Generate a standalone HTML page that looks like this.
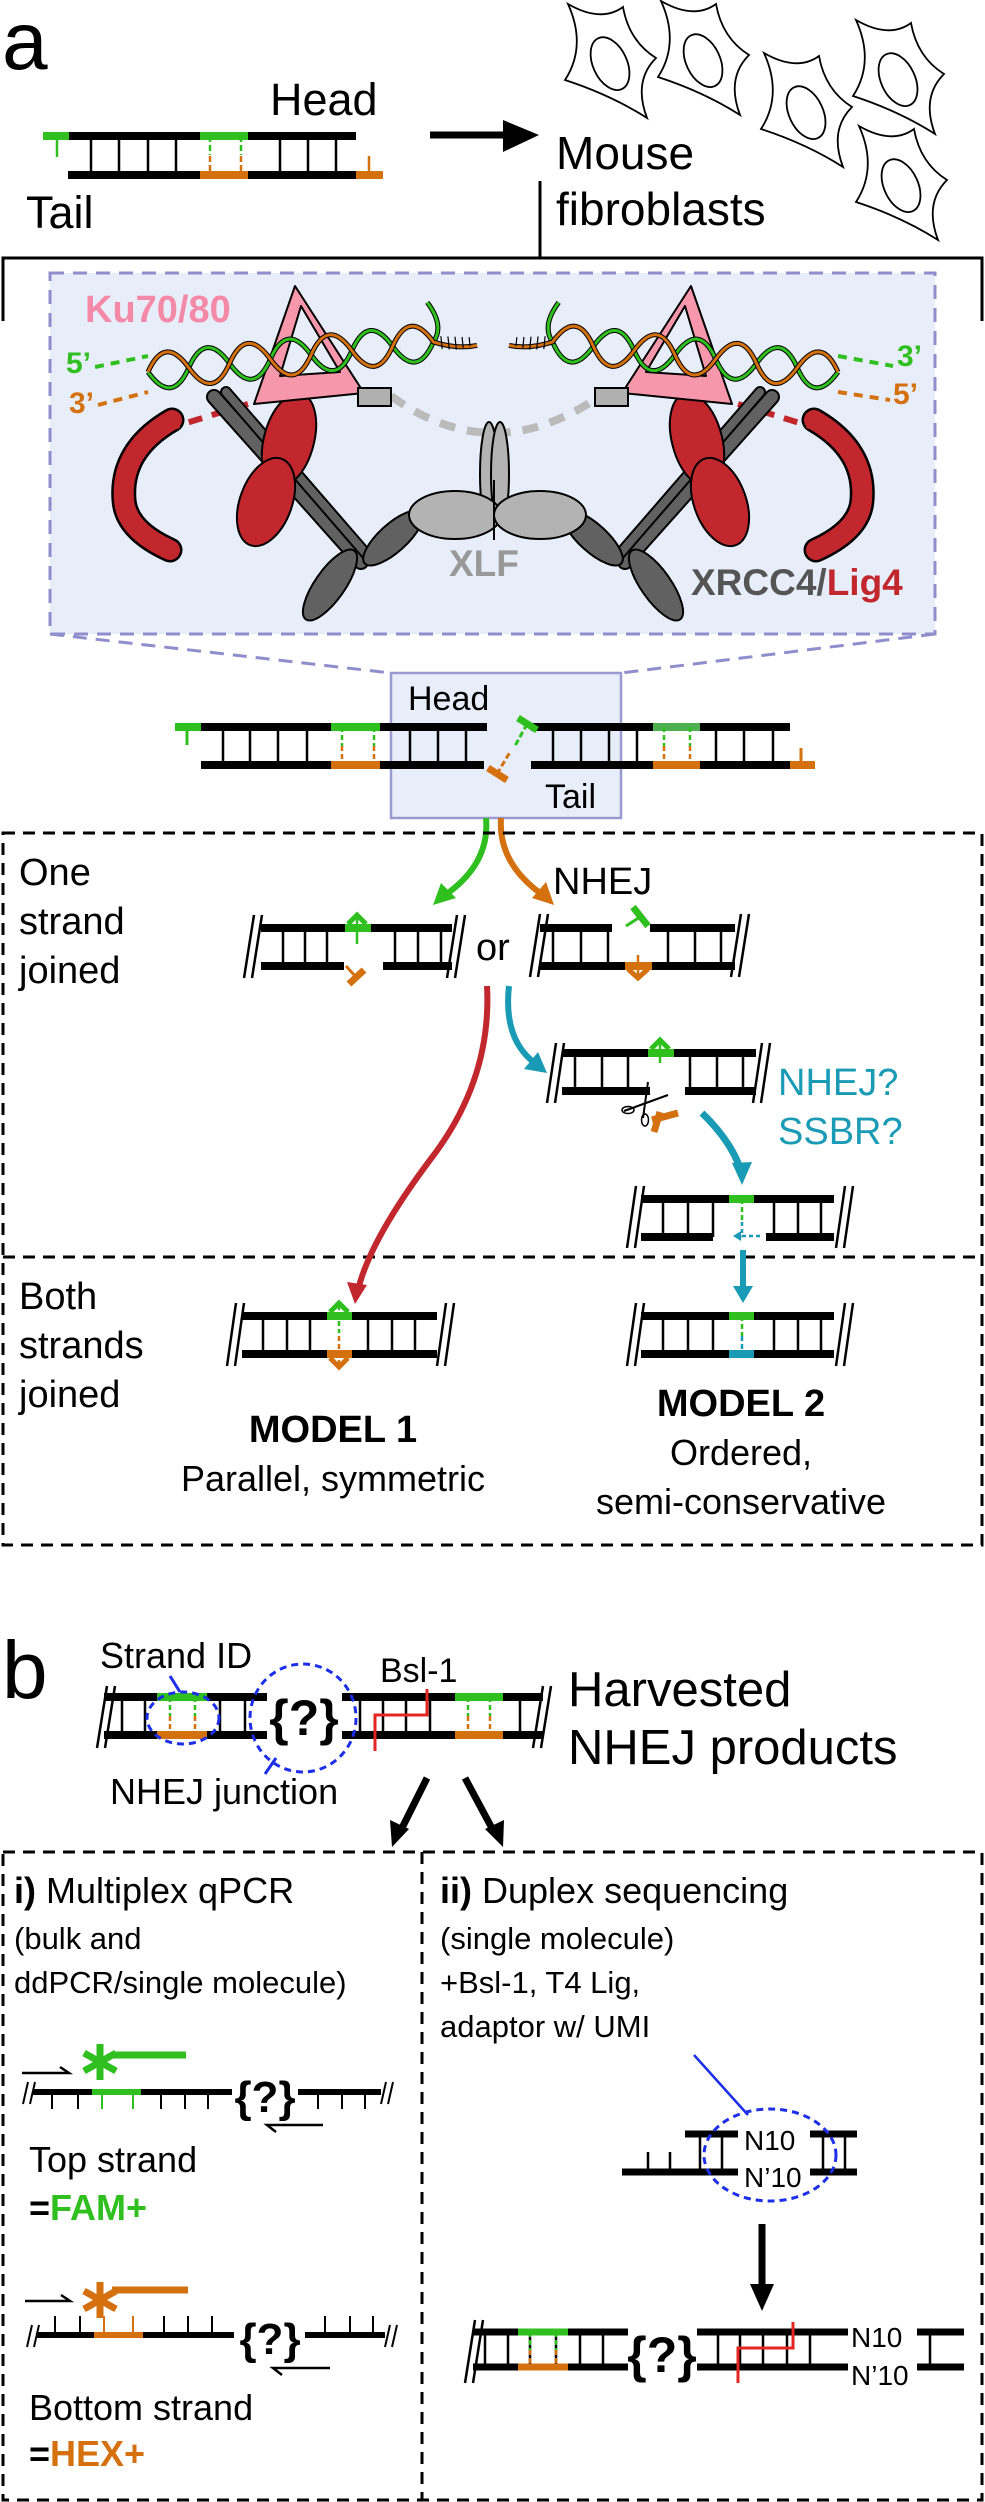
<!DOCTYPE html>
<html><head><meta charset="utf-8"><style>
html,body{margin:0;padding:0;background:#fff}
svg{display:block}
text{font-family:"Liberation Sans",sans-serif}
</style></head><body>
<svg width="985" height="2502" viewBox="0 0 985 2502" xmlns="http://www.w3.org/2000/svg">
<defs>
<pattern id="hatch" width="6" height="10" patternUnits="userSpaceOnUse"><path d="M3,0 V10" stroke="#000" stroke-width="1.2"/></pattern>
<g id="cell"><path d="M-43,-57 Q-10,-38 12,-54 Q18,-20 45,-3 Q22,20 36,57 Q0,34 -46,19 Q-24,-15 -43,-57 Z" fill="none" stroke="#000" stroke-width="1.8"/><ellipse cx="-2" cy="2" rx="17" ry="28" transform="rotate(-25)" fill="none" stroke="#000" stroke-width="1.8"/></g>
<g id="helix">
<path d="M0,0 Q20.5,-36 41,0 T82,0 T123,0 T164,0 T205,0 T246,0 T287,0 Q266.5,-36 246,0 T205,0 T164,0 T123,0 T82,0 T41,0 T0,0 Z" fill="url(#hatch)" stroke="none"/>
<path d="M0,0 Q20.5,36 41,0 T82,0 T123,0 T164,0 T205,0 T246,0 T287,0 Q300,-15 285,-40" fill="none" stroke="#000" stroke-width="5"/>
<path d="M0,0 Q20.5,36 41,0 T82,0 T123,0 T164,0 T205,0 T246,0 T287,0 Q300,-15 285,-40" fill="none" stroke="#2fbf1f" stroke-width="3"/>
<path d="M0,0 Q20.5,-36 41,0 T82,0 T123,0 T164,0 T205,0 T246,0 T287,0 Q310,10 330,8" fill="none" stroke="#000" stroke-width="5"/>
<path d="M0,0 Q20.5,-36 41,0 T82,0 T123,0 T164,0 T205,0 T246,0 T287,0 Q310,10 330,8" fill="none" stroke="#d5700f" stroke-width="3"/>
<path d="M295,-5 V8 M302,-4 V9 M309,-3 V10 M316,-2 V9 M323,-1 V8" stroke="#000" stroke-width="1.2"/>
</g>
<g id="complex">
<path d="M172,420 Q120,450 124,500 Q126,530 170,550" fill="none" stroke="#000" stroke-width="25" stroke-linecap="round"/>
<path d="M172,420 Q120,450 124,500 Q126,530 170,550" fill="none" stroke="#c1272d" stroke-width="20" stroke-linecap="round"/>
<path d="M248,404 L170,428" stroke="#c1272d" stroke-width="6" stroke-dasharray="14 10"/>
<path d="M214,397 L361,562" stroke="#000" stroke-width="16" stroke-linecap="round"/>
<path d="M214,397 L361,562" stroke="#616161" stroke-width="12" stroke-linecap="round"/>
<path d="M226,392 L368,556" stroke="#000" stroke-width="12" stroke-linecap="round"/>
<path d="M226,392 L368,556" stroke="#616161" stroke-width="8" stroke-linecap="round"/>
<ellipse cx="289" cy="440" rx="25" ry="48" transform="rotate(15 289 440)" fill="#c1272d" stroke="#000" stroke-width="2"/>
<ellipse cx="266" cy="502" rx="26" ry="46" transform="rotate(20 266 502)" fill="#c1272d" stroke="#000" stroke-width="2"/>
<ellipse cx="330" cy="585" rx="42" ry="15" transform="rotate(-55 330 585)" fill="#616161" stroke="#000" stroke-width="2"/>
<ellipse cx="393" cy="538" rx="38" ry="14" transform="rotate(-42 393 538)" fill="#616161" stroke="#000" stroke-width="2"/>
<path d="M295,286 L254,404 L364,393 Z" fill="#f797ac" stroke="#000" stroke-width="2" stroke-linejoin="round"/>
<path d="M301,306 L280,376 L340,372 Z" fill="#e8eef9" stroke="#000" stroke-width="2" stroke-linejoin="round"/>
<rect x="358" y="388" width="33" height="18" fill="#b0b0b0" stroke="#000" stroke-width="2"/>
</g>
</defs>

<!-- PANEL A -->
<text x="2" y="69" font-size="82">a</text>
<text x="270" y="115" font-size="45">Head</text>
<text x="26" y="228" font-size="45">Tail</text>
<path d="M91,136V175 M119,136V175 M148,136V175 M176,136V175 M280,136V175 M308,136V175 M336,136V175" stroke="#000" stroke-width="2.5"/>
<path d="M69,136H356 M68,175H356" stroke="#000" stroke-width="8"/>
<path d="M43,136H69 M200,136H248" stroke="#2fbf1f" stroke-width="8"/>
<path d="M200,175H248 M356,175H383" stroke="#d5700f" stroke-width="8"/>
<path d="M210,136V155 M241,136V155" stroke="#2fbf1f" stroke-width="2.5" stroke-dasharray="6 3"/>
<path d="M210,156V175 M241,156V175" stroke="#d5700f" stroke-width="2.5" stroke-dasharray="6 3"/>
<path d="M57,136V157" stroke="#2fbf1f" stroke-width="2.5"/>
<path d="M369,156V175" stroke="#d5700f" stroke-width="2.5"/>
<path d="M430,135H515" stroke="#000" stroke-width="7"/>
<path d="M503,120 L539,135 L503,152 Z" fill="#000"/>
<text x="556" y="169" font-size="46">Mouse</text>
<text x="556" y="225" font-size="46">fibroblasts</text>
<use href="#cell" x="611" y="61"/>
<use href="#cell" x="704" y="58"/>
<use href="#cell" x="807" y="110"/>
<use href="#cell" x="899" y="77"/>
<use href="#cell" x="902" y="183"/>
<path d="M540,181V258 M3,321V258H982V321" fill="none" stroke="#000" stroke-width="3"/>
<rect x="50" y="273" width="885" height="361" fill="#e8eef9" stroke="#8e8ecc" stroke-width="3" stroke-dasharray="14 9"/>
<path d="M50,634 L391,673 M935,634 L621,673" stroke="#8e8ecc" stroke-width="3" stroke-dasharray="14 9"/>
<path d="M391,396 Q493,470 600,396" fill="none" stroke="#bbb" stroke-width="8" stroke-dasharray="16 12"/>
<use href="#complex"/>
<g transform="translate(986,0) scale(-1,1)"><use href="#complex"/></g>
<ellipse cx="489" cy="474" rx="9" ry="52" fill="#b3b3b3" stroke="#000" stroke-width="2"/>
<ellipse cx="500" cy="474" rx="9" ry="52" fill="#b3b3b3" stroke="#000" stroke-width="2"/>
<ellipse cx="455" cy="515" rx="46" ry="24" fill="#b3b3b3" stroke="#000" stroke-width="2"/>
<ellipse cx="540" cy="515" rx="46" ry="24" fill="#b3b3b3" stroke="#000" stroke-width="2"/>
<path d="M494,480 L494,540" stroke="#000" stroke-width="2"/>
<g transform="translate(148,372) rotate(-6)"><use href="#helix"/></g>
<g transform="translate(838,372) scale(-1,1) rotate(-6)"><use href="#helix"/></g>
<path d="M95,367 L148,356" stroke="#2fbf1f" stroke-width="4" stroke-dasharray="9 7"/>
<path d="M98,405 L148,392" stroke="#d5700f" stroke-width="4" stroke-dasharray="9 7"/>
<path d="M838,356 L893,366" stroke="#2fbf1f" stroke-width="4" stroke-dasharray="9 7"/>
<path d="M838,392 L890,400" stroke="#d5700f" stroke-width="4" stroke-dasharray="9 7"/>
<text x="66" y="373" font-size="30" font-weight="bold" fill="#2fbf1f">5’</text>
<text x="69" y="413" font-size="30" font-weight="bold" fill="#d5700f">3’</text>
<text x="897" y="366" font-size="30" font-weight="bold" fill="#2fbf1f">3’</text>
<text x="893" y="404" font-size="30" font-weight="bold" fill="#d5700f">5’</text>
<text x="85" y="322" font-size="38" font-weight="bold" fill="#f48aa8">Ku70/80</text>
<text x="449" y="576" font-size="37" font-weight="bold" fill="#999">XLF</text>
<text x="691" y="595" font-size="37" font-weight="bold" fill="#555">XRCC4/<tspan fill="#c1272d">Lig4</tspan></text>

<rect x="391" y="673" width="230" height="145" fill="#e8eef9" stroke="#9a9ad0" stroke-width="2.5"/>
<text x="408" y="710" font-size="34">Head</text>
<text x="545" y="808" font-size="34">Tail</text>
<path d="M223,727V765 M250,727V765 M278,727V765 M307,727V765 M410,727V765 M438,727V765 M466,727V765 M553,727V765 M581,727V765 M609,727V765 M637,727V765 M716,727V765 M744,727V765 M773,727V765" stroke="#000" stroke-width="2.5"/>
<path d="M201,727H487 M201,765H484 M531,727H790 M531,765H790" stroke="#000" stroke-width="8"/>
<path d="M175,727H201 M331,727H380" stroke="#2fbf1f" stroke-width="8"/>
<path d="M653,727H700" stroke="#4caf50" stroke-width="8"/>
<path d="M331,765H380 M653,765H700 M790,765H815" stroke="#d5700f" stroke-width="8"/>
<path d="M187,727V745" stroke="#2fbf1f" stroke-width="3"/>
<path d="M801,748V765" stroke="#d5700f" stroke-width="3"/>
<path d="M342,727V746 M374,727V746 M664,727V746 M690,727V746" stroke="#2fbf1f" stroke-width="2.5" stroke-dasharray="5 3"/>
<path d="M342,746V765 M374,746V765 M664,746V765 M690,746V765" stroke="#d5700f" stroke-width="2.5" stroke-dasharray="5 3"/>
<path d="M518,718 L537,730" stroke="#2fbf1f" stroke-width="7"/>
<path d="M527,724 L515,746" stroke="#2fbf1f" stroke-width="3" stroke-dasharray="6 3"/>
<path d="M488,768 L507,780" stroke="#d5700f" stroke-width="7"/>
<path d="M497,774 L510,752" stroke="#d5700f" stroke-width="3" stroke-dasharray="6 3"/>
<path d="M486,818 Q490,862 448,893" fill="none" stroke="#2fbf1f" stroke-width="6"/>
<path d="M433,905 L441,883 L456,898 Z" fill="#2fbf1f"/>
<path d="M501,818 Q498,862 540,893" fill="none" stroke="#d5700f" stroke-width="6"/>
<path d="M554,905 L532,898 L546,882 Z" fill="#d5700f"/>

<rect x="3" y="833" width="979" height="712" fill="none" stroke="#000" stroke-width="3" stroke-dasharray="12 8"/>
<path d="M3,1257H982" stroke="#000" stroke-width="3" stroke-dasharray="12 8"/>
<text font-size="38"><tspan x="19" y="885">One</tspan><tspan x="19" y="934">strand</tspan><tspan x="19" y="983">joined</tspan></text>
<text x="553" y="894" font-size="38">NHEJ</text>
<text x="476" y="960" font-size="38">or</text>
<path d="M283,928V966 M305,928V966 M327,928V966 M395,928V966 M418,928V966 M441,928V966" stroke="#000" stroke-width="2.5"/>
<path d="M261,928H345 M371,928H452 M261,966H344 M383,966H452" stroke="#000" stroke-width="8"/>
<path d="M345,928H371" stroke="#2fbf1f" stroke-width="8"/>
<path d="M348,924 L357,915 L366,924" fill="none" stroke="#2fbf1f" stroke-width="5"/>
<path d="M357,917V944" stroke="#2fbf1f" stroke-width="2.5"/>
<path d="M349,984 L364,970" stroke="#d5700f" stroke-width="7"/>
<path d="M356,977 L346,966" stroke="#d5700f" stroke-width="3"/>
<path d="M254,915 L244,978 M262,915 L252,978 M457,915 L447,978 M465,915 L455,978" stroke="#000" stroke-width="2.5"/>
<path d="M553,928V966 M581,928V966 M608,928V966 M668,928V966 M695,928V966 M721,928V966" stroke="#000" stroke-width="2.5"/>
<path d="M540,928H612 M650,928H735 M540,966H625 M652,966H735" stroke="#000" stroke-width="8"/>
<path d="M625,966H652" stroke="#d5700f" stroke-width="8"/>
<path d="M628,969 L638,978 L648,969" fill="none" stroke="#d5700f" stroke-width="5"/>
<path d="M638,955V975" stroke="#d5700f" stroke-width="2.5"/>
<path d="M633,907 L648,926" stroke="#2fbf1f" stroke-width="7"/>
<path d="M640,917 L626,926" stroke="#2fbf1f" stroke-width="3"/>
<path d="M540,914 L530,977 M548,914 L538,977 M741,914 L731,977 M749,914 L739,977" stroke="#000" stroke-width="2.5"/>
<path d="M487,986 Q492,1080 430,1160 Q370,1240 358,1290" fill="none" stroke="#c1272d" stroke-width="6"/>
<path d="M355,1304 L347,1282 L367,1285 Z" fill="#c1272d"/>
<path d="M509,986 Q503,1040 536,1064" fill="none" stroke="#1a9bb5" stroke-width="6"/>
<path d="M547,1073 L524,1069 L538,1052 Z" fill="#1a9bb5"/>
<path d="M575,1053V1091 M602,1053V1091 M628,1053V1091 M690,1053V1091 M717,1053V1091 M743,1053V1091" stroke="#000" stroke-width="2.5"/>
<path d="M562,1053H648 M674,1053H756 M562,1091H650 M685,1091H756" stroke="#000" stroke-width="8"/>
<path d="M648,1053H674" stroke="#2fbf1f" stroke-width="8"/>
<path d="M651,1049 L660,1040 L669,1049" fill="none" stroke="#2fbf1f" stroke-width="5"/>
<path d="M660,1042V1063" stroke="#2fbf1f" stroke-width="2.5"/>
<path d="M654,1132 L660,1112 M652,1120 L678,1113" stroke="#d5700f" stroke-width="7"/>
<path d="M556,1043 L547,1103 M564,1043 L555,1103 M762,1043 L753,1103 M770,1043 L761,1103" stroke="#000" stroke-width="2.5"/>
<path d="M648,1082 L643,1118 M624,1111 L668,1095" stroke="#000" stroke-width="2"/>
<ellipse cx="628" cy="1110" rx="6" ry="3.5" fill="none" stroke="#000" stroke-width="1.5"/>
<ellipse cx="645" cy="1120" rx="3.5" ry="6" fill="none" stroke="#000" stroke-width="1.5"/>
<text font-size="38" fill="#1a9bb5"><tspan x="778" y="1095">NHEJ?</tspan><tspan x="778" y="1144">SSBR?</tspan></text>
<path d="M702,1113 Q730,1140 740,1168" fill="none" stroke="#1a9bb5" stroke-width="7"/>
<path d="M742,1185 L732,1163 L752,1162 Z" fill="#1a9bb5"/>
<path d="M663,1199V1237 M688,1199V1237 M713,1199V1237 M774,1199V1237 M798,1199V1237 M821,1199V1237" stroke="#000" stroke-width="2.5"/>
<path d="M641,1199H834 M641,1237H713 M766,1237H834" stroke="#000" stroke-width="8"/>
<path d="M729,1199H754" stroke="#2fbf1f" stroke-width="8"/>
<path d="M742,1199V1222" stroke="#2fbf1f" stroke-width="2.5" stroke-dasharray="5 3"/>
<path d="M742,1222V1237 M760,1236H738" stroke="#1a9bb5" stroke-width="2.5" stroke-dasharray="4 3"/>
<path d="M733,1236 L741,1231 L741,1241 Z" fill="#1a9bb5"/>
<path d="M636,1186 L627,1248 M644,1186 L635,1248 M845,1186 L836,1248 M853,1186 L844,1248" stroke="#000" stroke-width="2.5"/>
<path d="M743,1250V1288" stroke="#1a9bb5" stroke-width="6"/>
<path d="M733,1286 L753,1286 L743,1303 Z" fill="#1a9bb5"/>
<path d="M263,1316V1354 M287,1316V1354 M310,1316V1354 M368,1316V1354 M392,1316V1354 M415,1316V1354" stroke="#000" stroke-width="2.5"/>
<path d="M242,1316H437 M242,1354H437" stroke="#000" stroke-width="8"/>
<path d="M327,1316H352" stroke="#2fbf1f" stroke-width="8"/>
<path d="M330,1312 L339,1303 L348,1312" fill="none" stroke="#2fbf1f" stroke-width="5"/>
<path d="M339,1305V1333" stroke="#2fbf1f" stroke-width="2.5" stroke-dasharray="5 3"/>
<path d="M327,1354H352" stroke="#d5700f" stroke-width="8"/>
<path d="M330,1358 L339,1367 L348,1358" fill="none" stroke="#d5700f" stroke-width="5"/>
<path d="M339,1336V1365" stroke="#d5700f" stroke-width="2.5" stroke-dasharray="5 3"/>
<path d="M236,1303 L227,1366 M244,1303 L235,1366 M446,1303 L437,1366 M454,1303 L445,1366" stroke="#000" stroke-width="2.5"/>
<path d="M663,1316V1354 M688,1316V1354 M713,1316V1354 M774,1316V1354 M798,1316V1354 M821,1316V1354" stroke="#000" stroke-width="2.5"/>
<path d="M641,1316H834 M641,1354H834" stroke="#000" stroke-width="8"/>
<path d="M729,1316H754" stroke="#2fbf1f" stroke-width="8"/>
<path d="M729,1354H754" stroke="#1a9bb5" stroke-width="8"/>
<path d="M742,1316V1336" stroke="#2fbf1f" stroke-width="2.5" stroke-dasharray="5 3"/>
<path d="M742,1336V1354" stroke="#1a9bb5" stroke-width="2.5" stroke-dasharray="5 3"/>
<path d="M636,1303 L627,1366 M644,1303 L635,1366 M845,1303 L836,1366 M853,1303 L844,1366" stroke="#000" stroke-width="2.5"/>
<text font-size="38"><tspan x="19" y="1309">Both</tspan><tspan x="19" y="1358">strands</tspan><tspan x="19" y="1407">joined</tspan></text>
<text x="333" y="1442" font-size="38" font-weight="bold" text-anchor="middle">MODEL 1</text>
<text x="333" y="1491" font-size="36" text-anchor="middle">Parallel, symmetric</text>
<text x="741" y="1416" font-size="38" font-weight="bold" text-anchor="middle">MODEL 2</text>
<text x="741" y="1465" font-size="36" text-anchor="middle">Ordered,</text>
<text x="741" y="1514" font-size="36" text-anchor="middle">semi-conservative</text>

<!-- PANEL B -->
<text x="2" y="1698" font-size="82">b</text>
<path d="M122,1697V1735 M145,1697V1735 M220,1697V1735 M245,1697V1735 M360,1697V1735 M383,1697V1735 M406,1697V1735 M430,1697V1735 M520,1697V1735" stroke="#000" stroke-width="2.5"/>
<path d="M104,1697H267 M104,1735H267 M342,1697H543 M342,1735H543" stroke="#000" stroke-width="8"/>
<path d="M157,1697H207 M455,1697H503" stroke="#2fbf1f" stroke-width="8"/>
<path d="M157,1735H207 M455,1735H503" stroke="#d5700f" stroke-width="8"/>
<path d="M170,1697V1716 M195,1697V1716 M468,1697V1716 M490,1697V1716" stroke="#2fbf1f" stroke-width="2.5" stroke-dasharray="5 3"/>
<path d="M170,1716V1735 M195,1716V1735 M468,1716V1735 M490,1716V1735" stroke="#d5700f" stroke-width="2.5" stroke-dasharray="5 3"/>
<path d="M107,1686 L97,1748 M115,1686 L105,1748 M543,1686 L533,1748 M551,1686 L541,1748" stroke="#000" stroke-width="2.5"/>
<text x="304" y="1735" font-size="50" font-weight="bold" text-anchor="middle">{?}</text>
<path d="M427,1689V1715H375V1751" fill="none" stroke="#e52521" stroke-width="3"/>
<ellipse cx="183" cy="1718" rx="36" ry="26" fill="none" stroke="#1c2ee8" stroke-width="3" stroke-dasharray="7 5"/>
<ellipse cx="303" cy="1718" rx="53" ry="54" fill="none" stroke="#1c2ee8" stroke-width="3" stroke-dasharray="7 5"/>
<path d="M170,1676 L180,1692 M276,1758 L265,1774" stroke="#1c2ee8" stroke-width="3"/>
<text x="100" y="1668" font-size="36">Strand ID</text>
<text x="380" y="1682" font-size="34">Bsl-1</text>
<text x="110" y="1804" font-size="36">NHEJ junction</text>
<text x="568" y="1706" font-size="49">Harvested</text>
<text x="568" y="1764" font-size="49">NHEJ products</text>
<path d="M427,1778 L400,1832" stroke="#000" stroke-width="7"/>
<path d="M392,1847 L390,1820 L409,1829 Z" fill="#000"/>
<path d="M465,1778 L494,1832" stroke="#000" stroke-width="7"/>
<path d="M503,1847 L485,1829 L504,1820 Z" fill="#000"/>
<rect x="3" y="1852" width="979" height="648" fill="none" stroke="#000" stroke-width="3" stroke-dasharray="12 8"/>
<path d="M422,1852V2500" stroke="#000" stroke-width="3" stroke-dasharray="12 8"/>
<text x="14" y="1903" font-size="36"><tspan font-weight="bold">i)</tspan> Multiplex qPCR</text>
<text font-size="31"><tspan x="14" y="1949">(bulk and</tspan><tspan x="14" y="1993">ddPCR/single molecule)</tspan></text>
<text x="440" y="1903" font-size="36"><tspan font-weight="bold">ii)</tspan> Duplex sequencing</text>
<text font-size="31"><tspan x="440" y="1949">(single molecule)</tspan><tspan x="440" y="1993">+Bsl-1, T4 Lig,</tspan><tspan x="440" y="2037">adaptor w/ UMI</tspan></text>
<!-- qPCR top -->
<path d="M52,2092V2109 M78,2092V2109 M102,2092V2109 M133,2092V2109 M161,2092V2109 M185,2092V2109 M208,2092V2109 M318,2092V2109 M342,2092V2109 M365,2092V2109" stroke="#000" stroke-width="2"/>
<path d="M102,2092V2109 M133,2092V2109" stroke="#2fbf1f" stroke-width="2"/>
<path d="M33,2092H232 M298,2092H381" stroke="#000" stroke-width="6"/>
<path d="M92,2092H141" stroke="#2fbf1f" stroke-width="6"/>
<path d="M28,2082 L23,2104 M35,2082 L30,2104 M386,2082 L381,2104 M393,2082 L388,2104" stroke="#000" stroke-width="2"/>
<text x="265" y="2112" font-size="44" font-weight="bold" text-anchor="middle">{?}</text>
<path d="M22,2073H69 L60,2067" fill="none" stroke="#000" stroke-width="2.5"/>
<path d="M323,2125H267 L276,2132" fill="none" stroke="#000" stroke-width="2.5"/>
<path d="M112,2055H186" stroke="#2fbf1f" stroke-width="7"/>
<path d="M100,2044V2080 M84,2053 L116,2071 M84,2071 L116,2053" stroke="#2fbf1f" stroke-width="7"/>
<text x="29" y="2172" font-size="36">Top strand</text>
<text x="29" y="2220" font-size="36" font-weight="bold">=<tspan fill="#2fbf1f">FAM+</tspan></text>
<!-- qPCR bottom -->
<path d="M55,2316V2335 M80,2316V2335 M104,2316V2335 M133,2316V2335 M164,2316V2335 M188,2316V2335 M212,2316V2335 M325,2316V2335 M350,2316V2335 M373,2316V2335" stroke="#000" stroke-width="2"/>
<path d="M104,2316V2335 M133,2316V2335" stroke="#d5700f" stroke-width="2"/>
<path d="M37,2335H234 M305,2335H385" stroke="#000" stroke-width="6"/>
<path d="M94,2335H143" stroke="#d5700f" stroke-width="6"/>
<path d="M32,2325 L27,2347 M39,2325 L34,2347 M390,2325 L385,2347 M397,2325 L392,2347" stroke="#000" stroke-width="2"/>
<text x="270" y="2354" font-size="44" font-weight="bold" text-anchor="middle">{?}</text>
<path d="M25,2301H70 L61,2295" fill="none" stroke="#000" stroke-width="2.5"/>
<path d="M330,2368H273 L282,2375" fill="none" stroke="#000" stroke-width="2.5"/>
<path d="M112,2290H188" stroke="#d5700f" stroke-width="7"/>
<path d="M100,2282V2318 M84,2291 L116,2309 M84,2309 L116,2291" stroke="#d5700f" stroke-width="7"/>
<text x="29" y="2420" font-size="36">Bottom strand</text>
<text x="29" y="2466" font-size="36" font-weight="bold">=<tspan fill="#d5700f">HEX+</tspan></text>
<!-- adaptor -->
<path d="M648,2152V2172 M670,2152V2172 M700,2134V2172 M722,2134V2172 M823,2134V2172 M845,2134V2172" stroke="#000" stroke-width="2.5"/>
<path d="M685,2134H738 M622,2172H738 M810,2134H857 M810,2172H857" stroke="#000" stroke-width="7"/>
<text x="744" y="2150" font-size="28">N10</text>
<text x="744" y="2187" font-size="28">N’10</text>
<ellipse cx="770" cy="2155" rx="66" ry="46" fill="none" stroke="#1c2ee8" stroke-width="3" stroke-dasharray="7 5"/>
<path d="M694,2055 L748,2115" stroke="#1c2ee8" stroke-width="2.5"/>
<path d="M762,2224V2290" stroke="#000" stroke-width="7"/>
<path d="M750,2284 L774,2284 L762,2311 Z" fill="#000"/>
<!-- final dna -->
<path d="M485,2332V2367 M508,2332V2367 M530,2332V2367 M556,2332V2367 M580,2332V2367 M603,2332V2367 M718,2332V2367 M740,2332V2367 M763,2332V2367 M787,2332V2367 M810,2332V2367 M930,2332V2367" stroke="#000" stroke-width="2.5"/>
<path d="M473,2332H628 M473,2367H628 M697,2332H848 M697,2367H848 M917,2332H964 M917,2367H964" stroke="#000" stroke-width="7"/>
<path d="M518,2332H568" stroke="#2fbf1f" stroke-width="7"/>
<path d="M518,2367H568" stroke="#d5700f" stroke-width="7"/>
<path d="M530,2332V2350 M556,2332V2350" stroke="#2fbf1f" stroke-width="2.5" stroke-dasharray="5 3"/>
<path d="M530,2350V2367 M556,2350V2367" stroke="#d5700f" stroke-width="2.5" stroke-dasharray="5 3"/>
<path d="M475,2320 L465,2383 M483,2320 L473,2383" stroke="#000" stroke-width="2.5"/>
<text x="662" y="2372" font-size="50" font-weight="bold" text-anchor="middle">{?}</text>
<path d="M793,2322V2348H738V2383" fill="none" stroke="#e52521" stroke-width="3"/>
<text x="851" y="2347" font-size="28">N10</text>
<text x="851" y="2385" font-size="28">N’10</text>
</svg>
</body></html>
